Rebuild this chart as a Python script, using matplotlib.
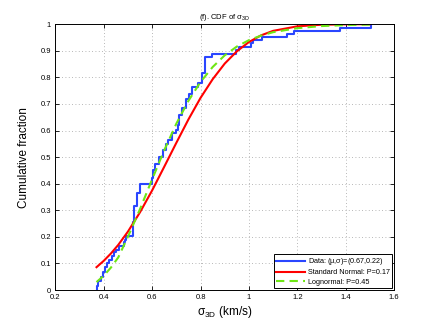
import numpy as np
import matplotlib
matplotlib.use('Agg')
import matplotlib.pyplot as plt
from matplotlib.ticker import FuncFormatter

plt.rcParams['font.family'] = ['Liberation Sans', 'DejaVu Sans']
plt.rcParams['mathtext.fontset'] = 'custom'
plt.rcParams['mathtext.rm'] = 'Liberation Sans'
plt.rcParams['mathtext.it'] = 'Liberation Sans:italic'

data_x = [0.371, 0.378, 0.387, 0.395, 0.405, 0.415, 0.422, 0.432, 0.441, 0.452,
          0.465, 0.482, 0.488, 0.493, 0.520, 0.527, 0.537, 0.548, 0.598, 0.605,
          0.612, 0.630, 0.644, 0.657, 0.666, 0.682, 0.699, 0.705, 0.712, 0.723,
          0.740, 0.751, 0.765, 0.788, 0.808, 0.819, 0.849, 0.945, 0.960, 1.007,
          1.017, 1.055, 1.158, 1.186, 1.378, 1.505]
data_y = [0.017, 0.034, 0.050, 0.068, 0.085, 0.100, 0.113, 0.128, 0.144, 0.152,
          0.165, 0.180, 0.190, 0.205, 0.257, 0.316, 0.366, 0.400, 0.420, 0.451,
          0.474, 0.499, 0.526, 0.549, 0.565, 0.589, 0.602, 0.620, 0.658, 0.683,
          0.717, 0.739, 0.764, 0.779, 0.815, 0.877, 0.887, 0.902, 0.915, 0.930,
          0.942, 0.950, 0.965, 0.975, 0.986, 1.000]

# fitted curves
fit_x = [0.37, 0.40, 0.43, 0.46, 0.50, 0.55, 0.60, 0.65, 0.70, 0.75, 0.80,
         0.85, 0.90, 0.95, 1.00, 1.05, 1.10, 1.20, 1.30, 1.40, 1.50]
normal_y = [0.086, 0.110, 0.138, 0.170, 0.220, 0.293, 0.375, 0.464, 0.554, 0.642,
            0.723, 0.793, 0.852, 0.898, 0.933, 0.958, 0.975, 0.992, 0.998, 0.9995, 1.0]
lognorm_y = [0.030, 0.054, 0.085, 0.123, 0.201, 0.305, 0.417, 0.526, 0.626, 0.712,
             0.783, 0.839, 0.883, 0.916, 0.940, 0.957, 0.970, 0.985, 0.993, 0.9967, 0.9984]

labels = [r'Data: ($\mathrm{\mu}$,$\mathrm{\sigma}$)=(0.67,0.22)',
          'Standard Normal: P=0.17',
          'Lognormal: P=0.45']

fig = plt.figure(figsize=(4.36, 3.27), dpi=100)
ax = fig.add_axes([0.127, 0.113, 0.777, 0.813])

ax.step([data_x[0]] + data_x, [0] + data_y, where='post', color='#2a46ff', lw=1.5, label=labels[0])
ax.plot(fit_x, normal_y, color='#ff0000', lw=1.5, label=labels[1])
ax.plot(fit_x, lognorm_y, color='#6ee614', lw=1.5, ls=(0, (4, 2.5)), label=labels[2])

ax.set_xlim(0.2, 1.6)
ax.set_ylim(0, 1)
ax.set_xticks(np.arange(0.2, 1.61, 0.2))
ax.set_yticks(np.arange(0, 1.01, 0.1))
fmt = FuncFormatter(lambda v, p: '%g' % round(v, 2))
ax.xaxis.set_major_formatter(fmt)
ax.yaxis.set_major_formatter(fmt)
ax.tick_params(direction='in', length=3, width=0.6, labelsize=5.5, top=True, right=True, pad=3)
ax.grid(True, ls=(0, (1, 3)), color='#a0a0a0', lw=0.6)
for s in ax.spines.values():
    s.set_linewidth(0.7)

ax.set_title(r'(f). CDF of $\mathrm{\sigma_{3D}}$', fontsize=5.5, pad=4)
ax.set_xlabel(r'$\mathrm{\sigma_{3D}}$ (km/s)', fontsize=8.5, labelpad=2)
ax.set_ylabel('Cumulative fraction', fontsize=8.5, labelpad=8)

leg = ax.legend(loc='lower right', fontsize=5.2, frameon=True, fancybox=False,
                edgecolor='black', framealpha=1, borderaxespad=0.3,
                handlelength=4, handletextpad=0.4, labelspacing=0.3, borderpad=0.3)
leg.get_frame().set_linewidth(0.7)

fig.savefig('out.png', dpi=100)
